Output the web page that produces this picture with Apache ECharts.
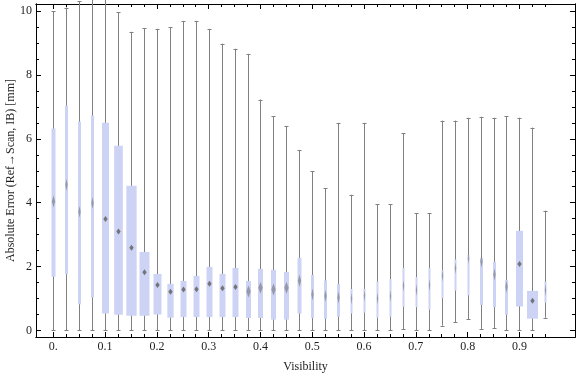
<!DOCTYPE html>
<html>
<head>
<meta charset="utf-8">
<script src="https://cdn.jsdelivr.net/npm/echarts@6/dist/echarts.min.js"></script>
<style>
html, body { margin: 0; padding: 0; background: #fff; }
#chart { width: 576px; height: 377px; }
</style>
</head>
<body>
<div id="chart"></div>
<script>
// box positions along the visibility axis
var visibility = [0, 0.025, 0.05, 0.075, 0.1, 0.125, 0.15, 0.175, 0.2, 0.225,
    0.25, 0.275, 0.3, 0.325, 0.35, 0.375, 0.4, 0.425, 0.45, 0.475,
    0.5, 0.525, 0.55, 0.575, 0.6, 0.625, 0.65, 0.675, 0.7, 0.725,
    0.75, 0.775, 0.8, 0.825, 0.85, 0.875, 0.9, 0.925, 0.95];
// whisker ends, quartiles and median (mm)
var whiskerLow = [0, 0, 0, 0, 0, 0, 0, 0, 0, 0,
    0, 0, 0, 0, 0, 0, 0, 0, 0, 0,
    0, 0, 0, 0, 0, 0, 0, 0.04, 0, 0,
    0.15, 0.25, 0.35, 0.05, 0.08, 0, 0, 0, 0.40];
var quartile1 = [1.68, 1.76, 0.82, 1.03, 0.53, 0.49, 0.46, 0.46, 0.50, 0.40,
    0.42, 0.42, 0.42, 0.42, 0.42, 0.39, 0.39, 0.34, 0.34, 0.53,
    0.39, 0.37, 0.43, 0.53, 0.56, 0.40, 0.43, 0.74, 0.73, 0.65,
    1.01, 1.25, 1.10, 0.80, 0.73, 0.49, 0.75, 0.37, 0.87];
var median = [4.04, 4.56, 3.72, 3.99, 3.49, 3.10, 2.59, 1.82, 1.42, 1.21,
    1.28, 1.29, 1.46, 1.32, 1.36, 1.22, 1.34, 1.28, 1.34, 1.56,
    1.13, 1.08, 1.03, 1.00, 1.09, 1.00, 1.08, 1.40, 1.27, 1.42,
    1.71, 1.95, 2.26, 2.16, 1.75, 1.37, 2.08, 0.93, 1.27];
var quartile3 = [6.32, 7.04, 6.54, 6.73, 6.50, 5.78, 4.53, 2.46, 1.77, 1.46,
    1.55, 1.71, 1.99, 1.77, 1.96, 1.55, 1.93, 1.90, 1.83, 2.27,
    1.74, 1.57, 1.46, 1.30, 1.30, 1.53, 1.61, 1.96, 1.67, 1.95,
    1.89, 2.22, 2.36, 2.27, 2.15, 1.58, 3.12, 1.24, 1.52];
var whiskerHigh = [10.0, 10.11, 10.3, 10.6, 10.5, 9.97, 9.35, 9.47, 9.44, 9.50,
    9.69, 9.69, 9.44, 8.98, 8.82, 8.66, 7.23, 6.71, 6.40, 5.65,
    4.99, 4.46, 6.50, 4.25, 6.50, 3.96, 3.96, 6.18, 3.67, 3.67,
    6.57, 6.57, 6.66, 6.69, 6.66, 6.71, 6.66, 6.35, 3.75];
// relative sample size, drives the box width
var boxWeight = [4, 3, 3, 3, 7, 8.7, 10.3, 10, 8, 6.3,
    6, 6, 6, 6, 6, 5, 5, 5, 5, 4,
    3, 3, 3, 2, 2, 2, 2, 2, 2, 2,
    2, 2, 2, 3, 3, 3, 7, 11, 2];

var xMajorTicks = [0, 0.1, 0.2, 0.3, 0.4, 0.5, 0.6, 0.7, 0.8, 0.9];
var yMajorTicks = [0, 2, 4, 6, 8, 10];
var yMinorTicks = [0, 0.5, 1, 1.5, 2, 2.5, 3, 3.5, 4, 4.5, 5, 5.5, 6, 6.5,
    7, 7.5, 8, 8.5, 9, 9.5, 10];

var rows = [];
for (var i = 0; i < visibility.length; i++) {
    rows.push([visibility[i], whiskerLow[i], quartile1[i], median[i],
        quartile3[i], whiskerHigh[i], boxWeight[i]]);
}

var serif = '"Liberation Serif", "Times New Roman", serif';
var textColor = '#1e1e1e';
var xMin = -0.0334, xMax = 1.0073;
var yMin = -0.204, yMax = 10.22;

function renderBox(params, api) {
    var x = api.value(0);
    var lo = api.coord([x, api.value(1)]);
    var b1 = api.coord([x, api.value(2)]);
    var md = api.coord([x, api.value(3)]);
    var b3 = api.coord([x, api.value(4)]);
    var hi = api.coord([x, api.value(5)]);
    var slot = api.size([0.025, 0])[0];
    var bw = api.value(6) * slot / 13;
    var cx = Math.round(lo[0]) + 0.5;
    var whisk = { stroke: '#808080', lineWidth: 1 };
    var hw = Math.min(2.2, bw / 2 - 0.3);
    var hh = bw < 5 ? 6 : 3;
    return {
        type: 'group',
        children: [
            { type: 'line', shape: { x1: cx, y1: lo[1], x2: cx, y2: hi[1] }, style: whisk },
            { type: 'line', shape: { x1: cx - 2, y1: Math.round(lo[1]) + 0.5, x2: cx + 2, y2: Math.round(lo[1]) + 0.5 }, style: whisk },
            { type: 'line', shape: { x1: cx - 2, y1: Math.round(hi[1]) + 0.5, x2: cx + 2, y2: Math.round(hi[1]) + 0.5 }, style: whisk },
            { type: 'rect', shape: { x: cx - bw / 2, y: b3[1], width: bw, height: b1[1] - b3[1] },
              style: { fill: '#cdd3f5' } },
            { type: 'polygon', shape: { points: [[cx, md[1] - hh], [cx + hw, md[1]], [cx, md[1] + hh], [cx - hw, md[1]]] },
              style: { fill: '#6a6a6a', opacity: bw < 5 ? 0.55 : 0.9 } }
        ]
    };
}

function frameAxis(pos, ticks, len, extra) {
    var a = {
        type: 'value', position: pos, min: pos === 'bottom' || pos === 'top' ? xMin : yMin,
        max: pos === 'bottom' || pos === 'top' ? xMax : yMax,
        axisLine: { show: true, onZero: false, lineStyle: { color: '#000', width: 1 } },
        axisTick: { show: true, inside: true, length: len, customValues: ticks,
            lineStyle: { color: '#000', width: 1 } },
        axisLabel: { show: false },
        splitLine: { show: false }
    };
    for (var k in extra) a[k] = extra[k];
    return a;
}

var option = {
    animation: false,
    backgroundColor: '#fff',
    grid: { left: 36, right: 1, top: 4, bottom: 40, containLabel: false, outerBoundsMode: 'none' },
    xAxis: [
        frameAxis('bottom', xMajorTicks, 5, {
            name: 'Visibility', nameLocation: 'middle', nameGap: 24, nameMoveOverlap: false,
            nameTextStyle: { fontFamily: serif, fontSize: 12, color: textColor },
            axisLabel: { show: true, customValues: xMajorTicks, margin: 4,
                fontFamily: serif, fontSize: 12, color: textColor,
                formatter: function (v) { return v === 0 ? '0.' : String(v); } }
        }),
        frameAxis('bottom', visibility, 3, {}),
        frameAxis('top', xMajorTicks, 5, {}),
        frameAxis('top', visibility, 3, {})
    ],
    yAxis: [
        frameAxis('left', yMajorTicks, 5, {
            name: 'Absolute Error (Ref\u2192Scan, IB) [mm]', nameLocation: 'middle', nameGap: 19,
            nameRotate: 90, nameMoveOverlap: false,
            nameTextStyle: { fontFamily: serif, fontSize: 12, color: textColor },
            axisLabel: { show: true, customValues: yMajorTicks, margin: 4,
                fontFamily: serif, fontSize: 12, color: textColor }
        }),
        frameAxis('left', yMinorTicks, 3, {}),
        frameAxis('right', yMajorTicks, 5, {}),
        frameAxis('right', yMinorTicks, 3, {})
    ],
    series: [{
        type: 'custom',
        xAxisIndex: 0,
        yAxisIndex: 0,
        clip: false,
        renderItem: renderBox,
        encode: { x: 0, y: [1, 2, 3, 4, 5] },
        data: rows
    }]
};

var myChart = echarts.init(document.getElementById('chart'));
myChart.setOption(option);
</script>
</body>
</html>
